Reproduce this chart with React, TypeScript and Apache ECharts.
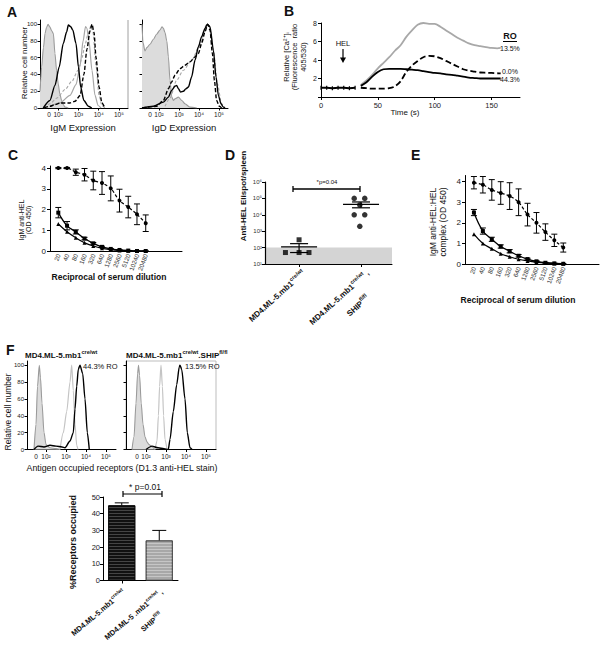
import React, { useEffect, useRef } from "react";
import * as echarts from "echarts";

const FONT = "Arial, 'Liberation Sans', Helvetica, sans-serif";
const SUP: Record<number, string> = { 1: "¹", 2: "²", 3: "³", 4: "⁴", 5: "⁵", 6: "⁶" };

// ---------- Panel A (x = log10 fluorescence, y = % of max) ----------
const igmIsotype = [[1.1,20],[1.14,35],[1.18,49],[1.27,72],[1.35,89],[1.42,96],[1.5,100],[1.58,97],[1.68,92],[1.76,89],[1.84,65],[1.92,45],[2.0,29],[2.08,17],[2.17,9],[2.25,4],[2.34,1],[2.5,0]];
const igmBlack = [[1.26,0],[1.59,9],[1.84,27],[2.05,49],[2.25,77],[2.42,91],[2.5,99],[2.62,97],[2.72,93],[2.88,77],[3.0,49],[3.11,25],[3.27,9],[3.49,2],[3.66,0]];
const igmGraySolid = [[1.59,2],[2.09,6],[2.58,15],[2.88,28],[3.08,50],[3.23,80],[3.35,97],[3.42,95],[3.52,80],[3.67,45],[3.82,15],[3.97,3],[4.12,0]];
const igmGrayDashed = [[1.3,0],[1.59,5],[1.94,12],[2.34,22],[2.68,32],[2.98,45],[3.18,60],[3.32,75],[3.47,88],[3.62,98],[3.72,90],[3.87,50],[4.02,15],[4.16,3],[4.31,0]];
const igmBlackDashed = [[1.3,0],[1.59,2],[1.84,4],[2.09,6],[2.58,6],[2.83,8],[3.08,15],[3.27,40],[3.42,70],[3.57,92],[3.67,100],[3.77,90],[3.87,60],[4.02,25],[4.16,6],[4.31,0]];

const igdIsotype = [[1.15,100],[1.2,78],[1.3,68],[1.39,72],[1.55,76],[1.72,82],[1.88,88],[2.05,93],[2.15,97],[2.22,95],[2.3,90],[2.39,80],[2.47,61],[2.55,33],[2.64,13],[2.72,9],[2.8,11],[2.97,13],[3.14,9],[3.3,5],[3.55,1],[3.89,0]];
const igdBlack = [[1.15,0],[1.72,2],[2.22,7],[2.47,13],[2.63,21],[2.8,26],[2.88,27],[2.97,23],[3.08,19],[3.22,20],[3.35,23],[3.47,25],[3.63,37],[3.8,57],[3.97,73],[4.13,85],[4.3,95],[4.42,100],[4.55,97],[4.72,69],[4.85,37],[4.97,15],[5.1,5],[5.22,1],[5.3,0]];
const igdBlackDashed = [[1.15,0],[1.88,2],[2.22,9],[2.47,23],[2.63,31],[2.8,39],[3.05,47],[3.3,51],[3.55,55],[3.8,61],[3.97,65],[4.13,77],[4.3,91],[4.43,100],[4.55,93],[4.67,65],[4.77,33],[4.88,9],[5.02,2],[5.13,0]];
const igdGray = [[2.3,2],[2.55,12],[2.88,33],[3.22,45],[3.63,57],[4.05,75],[4.38,100],[4.52,98],[4.72,69],[4.92,29],[5.13,5],[5.3,0]];

// ---------- Panel B: calcium flux ----------
const baselineTime = [0, 5, 10, 15, 20, 25, 30];
const baselineVal = [1.0, 1.0, 0.95, 1.0, 1.0, 0.95, 1.0];
const responseTime = [35,40,45,50,55,60,65,70,75,80,85,90,95,100,105,110,115,120,125,130,135,140,145,150,155,158];
const ro135 = [1.3,1.8,2.4,3.1,3.7,4.3,5.0,5.6,6.5,7.2,7.8,8.0,7.9,7.9,7.6,7.2,6.8,6.4,6.1,5.8,5.6,5.5,5.4,5.3,5.25,5.3];
const ro443 = [1.2,1.6,2.2,2.7,3.0,3.05,3.05,3.05,3.0,2.95,2.9,2.8,2.7,2.6,2.55,2.45,2.4,2.3,2.2,2.1,2.05,2.0,2.0,2.0,2.0,2.0];
const ro00 = [1.0,0.95,0.9,0.9,0.9,0.95,1.15,1.7,2.7,3.4,3.9,4.3,4.45,4.4,4.2,3.9,3.6,3.3,3.0,2.85,2.75,2.65,2.62,2.6,2.57,2.55];

// ---------- Panels C & E: ELISA titrations ----------
const dilutions = ["20","40","80","160","320","640","1280","2560","5120","10240","20480"];
const cShip = [4.0,4.0,3.8,3.68,3.4,3.28,3.02,2.43,2.12,1.77,1.34];
const cShipErr = [0.03,0.03,0.15,0.3,0.45,0.55,0.6,0.55,0.52,0.5,0.4];
const cWtSq = [1.85,1.22,0.92,0.6,0.37,0.2,0.1,0.05,0.02,0.0,0.0];
const cWtSqErr = [0.25,0.2,0.1,0.06,0.04,0.03,0.02,0.01,0.01,0,0];
const cWtTri = [1.3,0.93,0.64,0.4,0.24,0.13,0.07,0.03,0.01,0.0,0.0];

const eShip = [3.95,3.85,3.6,3.45,3.3,3.0,2.4,2.0,1.55,1.15,0.8];
const eShipErr = [0.3,0.4,0.5,0.55,0.65,0.65,0.55,0.5,0.4,0.3,0.22];
const eWtSq = [2.5,1.6,1.2,0.85,0.62,0.4,0.24,0.13,0.06,0.03,0.01];
const eWtSqErr = [0.15,0.15,0.1,0.08,0.08,0.06,0.04,0.03,0.02,0.01,0.01];
const eWtTri = [1.45,1.0,0.74,0.5,0.35,0.23,0.15,0.09,0.05,0.03,0.02];

// ---------- Panel D: Elispot ----------
const dWt = [50, 50, 50, 300];
const dWtJitter = [-0.22, 0, 0.16, 0];
const dShip = [100000, 100000, 40000, 10000, 10000, 2000];
const dShipJitter = [-0.11, 0.06, -0.02, -0.11, 0.06, -0.02];
const dMean = [112, 43700];
const dSem = [62, 17000];
const dDetection = [10, 100];

// ---------- Panel F: receptor occupancy ----------
const f1Isotype = [[1.4,0],[1.5,30],[1.575,75],[1.665,100],[1.725,85],[1.8,55],[1.9,20],[2.0,6],[2.2,2],[2.5,1],[2.7,0]];
const f1Gray = [[2.7,0],[2.865,20],[3.035,45],[3.2,80],[3.285,100],[3.365,70],[3.45,30],[3.535,5],[3.6,0]];
const f1Black = [[1.4,0],[1.6,4],[1.9,3],[2.2,5],[2.5,4],[2.8,3],[2.95,2],[3.2,10],[3.365,20],[3.45,48],[3.535,75],[3.615,95],[3.7,100],[3.835,90],[3.95,60],[4.065,20],[4.165,0]];
const f2Isotype = [[1.3,0],[1.4,15],[1.5,55],[1.58,90],[1.625,100],[1.68,88],[1.76,55],[1.85,30],[1.95,15],[2.05,9],[2.15,6],[2.3,3],[2.45,0]];
const f2Gray = [[2.45,0],[2.55,10],[2.62,40],[2.68,75],[2.75,100],[2.82,75],[2.88,40],[2.95,12],[3.05,0]];
const f2Black = [[2.0,0],[2.3,4],[2.6,2],[2.9,1],[3.115,0],[3.2,12],[3.365,45],[3.535,77],[3.665,98],[3.7,100],[3.785,95],[3.95,60],[4.065,20],[4.2,2],[4.3,0]];
const fMeans = [45, 24];
const fSem = [1.5, 6];
const fGroups = ["MD4.ML-5.mb1 cre/wt", "MD4.ML-5.mb1 cre/wt SHIP fl/fl"];

const pctTicks = [0, 20, 40, 60, 80, 100];

function xAx(gi: number, o: any) {
  return {
    type: "value", gridIndex: gi,
    axisLine: { show: true, onZero: false, lineStyle: { color: "#000", width: 1 } },
    axisTick: { show: true, length: 2.5, lineStyle: { color: "#000" }, ...(o.tick || {}) },
    axisLabel: { fontSize: 6.5, color: "#222", margin: 3, fontFamily: FONT, ...(o.label || {}) },
    splitLine: { show: false },
    ...(o.rest || {}),
  };
}

function histX(gi: number, min: number, max: number, zero: number) {
  return xAx(gi, {
    rest: { min, max },
    tick: { customValues: [2, 3, 4, 5] },
    label: {
      customValues: [zero, 2, 3, 4, 5],
      formatter: (v: number) => (Math.abs(v - zero) < 1e-6 ? "0" : "10" + SUP[Math.round(v)]),
    },
  });
}
function histY(gi: number, labels: boolean) {
  return xAx(gi, {
    rest: { min: 0, max: 105 },
    tick: { customValues: pctTicks },
    label: { show: labels, customValues: pctTicks, fontSize: 6 },
  });
}

function hist(gi: number, data: number[][], kind: string) {
  const s: any = {
    type: "line", xAxisIndex: gi, yAxisIndex: gi, data, symbol: "none", showSymbol: false,
    smooth: 0.25, smoothMonotone: "x", silent: true, z: 2,
  };
  if (kind === "fill") {
    s.lineStyle = { color: "#9a9a9a", width: 1.1 };
    s.areaStyle = { color: "#dcdcdc", opacity: 1 };
    s.z = 1;
  } else if (kind === "black") s.lineStyle = { color: "#000", width: 1.4 };
  else if (kind === "bdash") s.lineStyle = { color: "#000", width: 1.4, type: [4, 2] };
  else if (kind === "gray") s.lineStyle = { color: "#a6a6a6", width: 1.2 };
  else if (kind === "light") s.lineStyle = { color: "#c4c4c4", width: 1.2 };
  else if (kind === "gdash") s.lineStyle = { color: "#a6a6a6", width: 1.1, type: [3, 2] };
  return s;
}

function errorBars(gi: number, rows: number[][], cap: number, upOnly = false) {
  return {
    type: "custom", xAxisIndex: gi, yAxisIndex: gi, data: rows, z: 3, silent: true,
    encode: { x: 0, y: [1, 2] },
    renderItem: (_p: any, api: any) => {
      const x = api.value(0), lo = api.value(1), hi = api.value(2);
      const p1 = api.coord([x, lo]);
      const p2 = api.coord([x, hi]);
      const st = { stroke: "#000", lineWidth: 1 };
      const ch: any[] = [
        { type: "line", shape: { x1: p1[0], y1: p1[1], x2: p2[0], y2: p2[1] }, style: st },
        { type: "line", shape: { x1: p2[0] - cap, y1: p2[1], x2: p2[0] + cap, y2: p2[1] }, style: st },
      ];
      if (!upOnly) ch.push({ type: "line", shape: { x1: p1[0] - cap, y1: p1[1], x2: p1[0] + cap, y2: p1[1] }, style: st });
      return { type: "group", children: ch };
    },
  };
}

function titration(gi: number, ship: number[], shipErr: number[], sq: number[], sqErr: number[], tri: number[]) {
  const pts = (arr: number[]) => arr.map((v, i) => [i, v]);
  return [
    errorBars(gi, ship.map((v, i) => [i, v - shipErr[i], v + shipErr[i]]), 3),
    errorBars(gi, sq.map((v, i) => [i, v - sqErr[i], v + sqErr[i]]), 3),
    { type: "line", xAxisIndex: gi, yAxisIndex: gi, data: pts(ship), smooth: 0.3, symbol: "circle", symbolSize: 4,
      itemStyle: { color: "#000" }, lineStyle: { color: "#000", width: 1.2, type: [3, 2] }, z: 4 },
    { type: "line", xAxisIndex: gi, yAxisIndex: gi, data: pts(sq), smooth: 0.4, symbol: "rect", symbolSize: 4,
      itemStyle: { color: "#000" }, lineStyle: { color: "#000", width: 1.3 }, z: 4 },
    { type: "line", xAxisIndex: gi, yAxisIndex: gi, data: pts(tri), smooth: 0.4, symbol: "triangle", symbolSize: 4,
      itemStyle: { color: "#000" }, lineStyle: { color: "#000", width: 1.2 }, z: 4 },
  ];
}

function titrationX(gi: number, min: number, max: number) {
  return xAx(gi, {
    rest: { min, max },
    tick: { show: false },
    label: {
      customValues: dilutions.map((_d, i) => i),
      formatter: (v: number) => dilutions[Math.round(v)] || "",
      rotate: 70, fontSize: 6.3, margin: 3, color: "#333",
    },
  });
}
function titrationY(gi: number, max: number) {
  return xAx(gi, {
    rest: { min: 0, max },
    tick: { customValues: [0, 1, 2, 3, 4], length: 3 },
    label: { customValues: [0, 1, 2, 3, 4], fontSize: 8, margin: 4 },
  });
}

// ---------- text helpers ----------
let measureCtx: CanvasRenderingContext2D | null = null;
function textWidth(text: string, size: number, bold: boolean) {
  if (!measureCtx && typeof document !== "undefined") measureCtx = document.createElement("canvas").getContext("2d");
  if (!measureCtx) return text.length * size * 0.55;
  measureCtx.font = `${bold ? "bold " : ""}${size}px ${FONT}`;
  return measureCtx.measureText(text).width;
}

function txt(text: string, x: number, y: number, o: any = {}) {
  const align = o.align || "left";
  const va = o.va || "middle";
  const style: any = {
    text, fontSize: o.size || 7, fontWeight: o.bold ? "bold" : "normal", fontFamily: FONT,
    fill: o.color || "#111", align, textAlign: align, verticalAlign: va, textVerticalAlign: va,
  };
  return { type: "text", x, y, rotation: o.rot || 0, silent: true, z: 10, style };
}

// Label made of plain / superscript segments, each its own rotated text element.
// (ax, ay) is the right end (align "right") or left start (align "left") of the baseline.
function supLabel(segs: [string, boolean][], ax: number, ay: number, rot: number, size: number, supSize: number, align: "left" | "right") {
  const widths = segs.map(([t, s]) => textWidth(t, s ? supSize : size, true));
  const total = widths.reduce((a, b) => a + b, 0);
  const ux = Math.cos(rot), uy = -Math.sin(rot);   // along the text
  const nx = -Math.sin(rot), ny = -Math.cos(rot);  // towards the top of the glyphs
  let cx = align === "right" ? -total : 0;
  const raise = size * 0.42;
  return segs.map(([t, s], i) => {
    const px = ax + cx * ux + (s ? raise * nx : 0);
    const py = ay + cx * uy + (s ? raise * ny : 0);
    cx += widths[i];
    return {
      type: "text", x: px, y: py, rotation: rot, silent: true, z: 10,
      style: { text: t, fontSize: s ? supSize : size, fontWeight: "bold", fontFamily: FONT, fill: "#111",
        align: "left", textAlign: "left", verticalAlign: "middle", textVerticalAlign: "middle" },
    };
  });
}

function ln(x1: number, y1: number, x2: number, y2: number, w = 1, color = "#000") {
  return { type: "line", silent: true, z: 10, shape: { x1, y1, x2, y2 }, style: { stroke: color, lineWidth: w } };
}

function buildOption(): any {
  const grids = [
    { left: 40, top: 20, width: 88, height: 88 },
    { left: 142, top: 20, width: 86, height: 88 },
    { left: 321, top: 23, width: 199, height: 74 },
    { left: 50, top: 166, width: 132, height: 85 },
    { left: 265, top: 182, width: 127, height: 82 },
    { left: 465, top: 175.5, width: 134, height: 88.5 },
    { left: 27, top: 361, width: 89, height: 88.5 },
    { left: 126, top: 361, width: 90, height: 88.5, show: true, borderColor: "#bdbdbd", borderWidth: 1 },
    { left: 103, top: 497, width: 75, height: 83.5 },
  ];

  const xAxis: any[] = [
    histX(0, 1.1, 5.45, 1.55),
    histX(1, 1.15, 5.45, 1.55),
    xAx(2, { rest: { min: 0, max: 175 }, tick: { customValues: [0, 50, 100, 150], length: 3 }, label: { customValues: [0, 50, 100, 150], fontSize: 7.5, margin: 4 } }),
    titrationX(3, -0.95, 14.15),
    xAx(4, { rest: { min: -0.55, max: 1.5 }, tick: { customValues: [0, 1], length: 3 }, label: { show: false } }),
    titrationX(5, -1, 14),
    histX(6, 1.05, 5.5, 1.5),
    histX(7, 1.0, 5.5, 1.55),
    {
      type: "category", gridIndex: 8, data: fGroups,
      axisLine: { show: true, onZero: false, lineStyle: { color: "#000", width: 1 } },
      axisTick: { show: true, alignWithLabel: true, length: 3, lineStyle: { color: "#000" } },
      axisLabel: { show: false },
    },
  ];
  const yAxis: any[] = [
    histY(0, true),
    histY(1, false),
    xAx(2, { rest: { min: 0, max: 8 }, tick: { customValues: [0, 2, 4, 6, 8], length: 3 }, label: { customValues: [2, 4, 6, 8], fontSize: 7, margin: 4 } }),
    titrationY(3, 4.1),
    {
      type: "log", logBase: 10, gridIndex: 4, min: 10, max: 1000000,
      axisLine: { show: true, onZero: false, lineStyle: { color: "#000", width: 1.2 } },
      axisTick: { show: true, length: 3, lineStyle: { color: "#000" } },
      minorTick: { show: false },
      axisLabel: { fontSize: 6, color: "#333", margin: 3, fontFamily: FONT, formatter: (v: number) => "10" + SUP[Math.round(Math.log10(v))] },
      splitLine: { show: false },
    },
    titrationY(5, 4.3),
    histY(6, true),
    histY(7, false),
    xAx(8, { rest: { min: 0, max: 50 }, tick: { customValues: [0, 10, 20, 30, 40, 50], length: 3 }, label: { customValues: [0, 10, 20, 30, 40, 50], fontSize: 7.5, margin: 3 } }),
  ];

  const series: any[] = [
    // A
    hist(0, igmIsotype, "fill"),
    hist(0, igmGrayDashed, "gdash"),
    hist(0, igmGraySolid, "gray"),
    hist(0, igmBlack, "black"),
    hist(0, igmBlackDashed, "bdash"),
    hist(1, igdIsotype, "fill"),
    hist(1, igdGray, "gdash"),
    hist(1, igdBlack, "black"),
    hist(1, igdBlackDashed, "bdash"),
    // B
    { type: "line", xAxisIndex: 2, yAxisIndex: 2, data: baselineTime.map((t, i) => [t, baselineVal[i]]), symbol: "rect", symbolSize: [1.2, 4],
      itemStyle: { color: "#000" }, lineStyle: { color: "#000", width: 2 }, silent: true },
    { type: "line", xAxisIndex: 2, yAxisIndex: 2, data: responseTime.map((t, i) => [t, ro135[i]]), symbol: "none", smooth: 0.3,
      lineStyle: { color: "#a8a8a8", width: 1.8 }, silent: true },
    { type: "line", xAxisIndex: 2, yAxisIndex: 2, data: responseTime.map((t, i) => [t, ro00[i]]), symbol: "none", smooth: 0.3,
      lineStyle: { color: "#000", width: 1.8, type: [6, 3] }, silent: true },
    { type: "line", xAxisIndex: 2, yAxisIndex: 2, data: responseTime.map((t, i) => [t, ro443[i]]), symbol: "none", smooth: 0.3,
      lineStyle: { color: "#000", width: 1.8 }, silent: true },
    // C
    ...titration(3, cShip, cShipErr, cWtSq, cWtSqErr, cWtTri),
    // D
    {
      type: "custom", xAxisIndex: 4, yAxisIndex: 4, data: [[0, dDetection[0], dDetection[1]]], z: 0, silent: true,
      encode: { x: 0, y: [1, 2] },
      renderItem: (p: any, api: any) => {
        const cs = p.coordSys;
        const y1 = api.coord([0, api.value(1)])[1];
        const y2 = api.coord([0, api.value(2)])[1];
        return { type: "rect", shape: { x: cs.x, y: y2, width: cs.width, height: y1 - y2 }, style: { fill: "#d4d4d4" } };
      },
    },
    {
      type: "custom", xAxisIndex: 4, yAxisIndex: 4, z: 3, silent: true,
      data: dMean.map((m, i) => [i, m, m - dSem[i], m + dSem[i]]),
      encode: { x: 0, y: [1, 2, 3] },
      renderItem: (_p: any, api: any) => {
        const x = api.value(0);
        const pm = api.coord([x, api.value(1)]);
        const pl = api.coord([x, api.value(2)]);
        const ph = api.coord([x, api.value(3)]);
        const st = { stroke: "#000", lineWidth: 1.2 };
        return { type: "group", children: [
          { type: "line", shape: { x1: pm[0] - 18, y1: pm[1], x2: pm[0] + 18, y2: pm[1] }, style: st },
          { type: "line", shape: { x1: pl[0], y1: pl[1], x2: ph[0], y2: ph[1] }, style: st },
          { type: "line", shape: { x1: pl[0] - 9, y1: pl[1], x2: pl[0] + 9, y2: pl[1] }, style: st },
          { type: "line", shape: { x1: ph[0] - 9, y1: ph[1], x2: ph[0] + 9, y2: ph[1] }, style: st },
        ] };
      },
    },
    { type: "scatter", xAxisIndex: 4, yAxisIndex: 4, data: dWt.map((v, i) => [0 + dWtJitter[i], v]), symbol: "rect", symbolSize: 5, itemStyle: { color: "#000" }, z: 4, silent: true },
    { type: "scatter", xAxisIndex: 4, yAxisIndex: 4, data: dShip.map((v, i) => [1 + dShipJitter[i], v]), symbol: "circle", symbolSize: 5.5, itemStyle: { color: "#000" }, z: 4, silent: true },
    // E
    ...titration(5, eShip, eShipErr, eWtSq, eWtSqErr, eWtTri),
    // F histograms
    hist(6, f1Isotype, "fill"),
    hist(6, f1Gray, "light"),
    hist(6, f1Black, "black"),
    hist(7, f2Isotype, "fill"),
    hist(7, f2Gray, "light"),
    hist(7, f2Black, "black"),
    // F bar
    {
      type: "bar", xAxisIndex: 8, yAxisIndex: 8, barWidth: 27, silent: true, z: 2,
      data: fMeans.map((v, i) => ({
        value: v,
        itemStyle: i === 0
          ? { color: "#111", borderColor: "#000", borderWidth: 0.8,
              decal: { symbol: "rect", symbolSize: 1, color: "rgba(255,255,255,0.22)", dashArrayX: [1, 0], dashArrayY: [1, 2] } }
          : { color: "#a8a8a8", borderColor: "#444", borderWidth: 0.8,
              decal: { symbol: "rect", symbolSize: 1, color: "rgba(255,255,255,0.35)", dashArrayX: [1, 0], dashArrayY: [1, 2] } },
      })),
    },
    errorBars(8, fMeans.map((v, i) => [i, v, v + fSem[i]]), 7, true),
  ];

  const DA = (42 * Math.PI) / 180;
  const BA = (40 * Math.PI) / 180;
  const graphic: any[] = [
    // panel letters
    txt("A", 7, 12, { size: 14, bold: true }),
    txt("B", 284, 11, { size: 14, bold: true }),
    txt("C", 8, 155, { size: 14, bold: true }),
    txt("D", 225, 155, { size: 14, bold: true }),
    txt("E", 411, 155, { size: 14, bold: true }),
    txt("F", 6, 350, { size: 14, bold: true }),
    // A
    ln(128, 20, 128, 108, 1, "#a0a0a0"),
    txt("Relative cell number", 24, 63, { size: 8, rot: Math.PI / 2, align: "center" }),
    txt("IgM Expression", 83, 127, { size: 9.5, align: "center" }),
    txt("IgD Expression", 184, 127, { size: 9.5, align: "center" }),
    // B
    txt("Relative [Ca²⁺]ᵢ", 286, 57, { size: 7.5, rot: Math.PI / 2, align: "center" }),
    txt("(Fluorescence  ratio", 294.5, 57, { size: 7.5, rot: Math.PI / 2, align: "center" }),
    txt("405/530)", 303, 57, { size: 7.5, rot: Math.PI / 2, align: "center" }),
    txt("HEL", 343, 43, { size: 7.5, align: "center" }),
    ln(343, 49, 343, 60, 1.2),
    { type: "polygon", silent: true, z: 10, shape: { points: [[340, 57.5], [346, 57.5], [343, 63]] }, style: { fill: "#000" } },
    txt("RO", 510, 36, { size: 9, bold: true, align: "center" }),
    ln(503, 41.5, 517, 41.5, 1),
    txt("13.5%", 500, 48, { size: 7 }),
    txt("0.0%", 502, 71, { size: 7 }),
    txt("44.3%", 500, 79, { size: 7 }),
    txt("Time (s)", 405, 112, { size: 8, align: "center" }),
    // C
    txt("IgM anti-HEL", 21, 220, { size: 7, rot: Math.PI / 2, align: "center" }),
    txt("(OD 450)", 28, 220, { size: 7, rot: Math.PI / 2, align: "center" }),
    txt("Reciprocal of serum dilution", 109, 277, { size: 8.5, bold: true, align: "center" }),
    // D
    txt("Anti-HEL Elispot/spleen", 243, 196, { size: 8, bold: true, rot: Math.PI / 2, align: "center" }),
    txt("*p=0.04", 327, 182, { size: 6, align: "center" }),
    ln(293, 189, 360, 189, 1.3),
    ln(293, 186, 293, 192, 1.3),
    ln(360, 186, 360, 192, 1.3),
    ...supLabel([["MD4.ML-5.mb1", false], ["cre/wt", true]], 304, 272, DA, 8, 5.5, "right"),
    ...supLabel([["MD4.ML-5.mb1", false], ["cre/wt", true], [" ,", false]], 368, 272, DA, 8, 5.5, "right"),
    ...supLabel([["SHIP", false], ["fl/fl", true]], 368, 297, DA, 8, 5.5, "right"),
    // E
    txt("IgM anti-HEL:HEL", 433, 222, { size: 8.5, rot: Math.PI / 2, align: "center" }),
    txt("complex (OD 450)", 443, 222, { size: 8.5, rot: Math.PI / 2, align: "center" }),
    txt("Reciprocal of serum dilution", 518, 300, { size: 8.5, bold: true, align: "center" }),
    // F
    ...supLabel([["MD4.ML-5.mb1", false], ["cre/wt", true]], 25, 355, 0, 8, 5.5, "left"),
    ...supLabel([["MD4.ML-5.mb1", false], ["cre/wt", true], [".SHIP", false], ["fl/fl", true]], 126, 355, 0, 8, 5.5, "left"),
    txt("Relative cell number", 8, 412, { size: 8.5, rot: Math.PI / 2, align: "center" }),
    txt("44.3% RO", 83, 366, { size: 7.5 }),
    txt("13.5% RO", 185, 366, { size: 7.5 }),
    txt("Antigen occupied receptors (D1.3 anti-HEL stain)", 122, 468, { size: 8.8, align: "center" }),
    txt("%Receptors occupied", 73, 542, { size: 9, bold: true, rot: Math.PI / 2, align: "center" }),
    txt("* p=0.01", 145, 487, { size: 8.5, align: "center" }),
    ln(123, 494, 162, 494, 1.2),
    ln(123, 491, 123, 497, 1.2),
    ln(162, 491, 162, 497, 1.2),
    ...supLabel([["MD4.ML-5.mb1", false], ["cre/wt", true]], 124, 591, BA, 7.5, 5, "right"),
    ...supLabel([["MD4.ML-5 .mb1", false], ["cre/wt", true], [" ,", false]], 162, 591, BA, 7.5, 5, "right"),
    ...supLabel([["SHIP", false], ["fl/fl", true]], 161, 614, BA, 7.5, 5, "right"),
  ];

  return {
    animation: false,
    backgroundColor: "#fff",
    textStyle: { fontFamily: FONT },
    grid: grids,
    xAxis,
    yAxis,
    series,
    graphic: { elements: graphic },
  };
}

export default function App() {
  const ref = useRef<HTMLDivElement>(null);
  useEffect(() => {
    if (!ref.current) return;
    const chart = echarts.init(ref.current, null, { renderer: "svg" });
    chart.setOption(buildOption());
    return () => chart.dispose();
  }, []);
  return (
    <div
      ref={ref}
      style={{ position: "absolute", left: 0, top: 0, width: 605, height: 651, background: "#fff" }}
    />
  );
}
